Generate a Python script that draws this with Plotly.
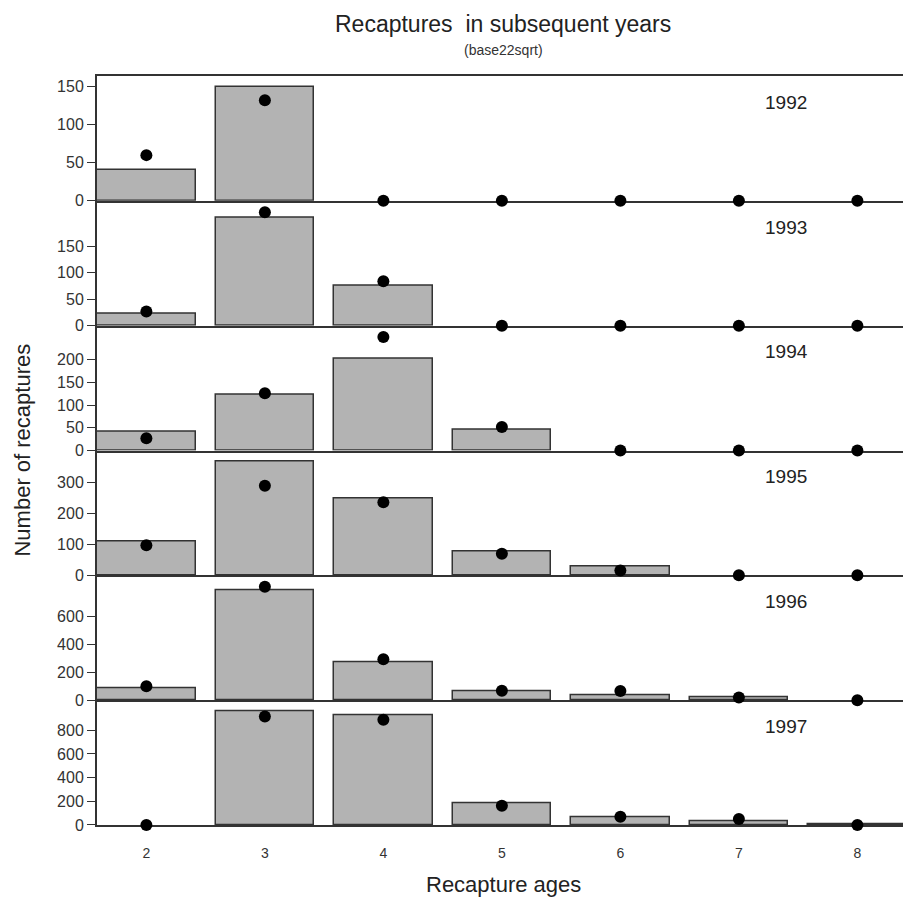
import plotly.graph_objects as go
from plotly.subplots import make_subplots

ages = [2, 3, 4, 5, 6, 7, 8]
years = ["1992", "1993", "1994", "1995", "1996", "1997"]
obs_1992 = [41, 149, 0, 0, 0, 0, 0]
obs_1993 = [22, 205, 76, 0, 0, 0, 0]
obs_1994 = [42, 123, 202, 45, 0, 0, 0]
obs_1995 = [108, 367, 249, 78, 30, 0, 0]
obs_1996 = [88, 790, 273, 63, 36, 17, 0]
obs_1997 = [0, 958, 930, 185, 65, 31, 4]
pred_1992 = [60, 132, 0, 0, 0, 0, 0]
pred_1993 = [27, 215, 84, 0, 0, 0, 0]
pred_1994 = [27, 126, 250, 52, 0, 0, 0]
pred_1995 = [97, 290, 236, 70, 16, 0, 0]
pred_1996 = [100, 815, 293, 67, 65, 20, 0]
pred_1997 = [0, 916, 888, 162, 70, 51, 0]
ytick_1992 = [0, 50, 100, 150]
ytick_1993 = [0, 50, 100, 150]
ytick_1994 = [0, 50, 100, 150, 200]
ytick_1995 = [0, 100, 200, 300]
ytick_1996 = [0, 200, 400, 600]
ytick_1997 = [0, 200, 400, 600, 800]

obs = [obs_1992, obs_1993, obs_1994, obs_1995, obs_1996, obs_1997]
pred = [pred_1992, pred_1993, pred_1994, pred_1995, pred_1996, pred_1997]
yticks = [ytick_1992, ytick_1993, ytick_1994, ytick_1995, ytick_1996, ytick_1997]

FONT = "Liberation Sans, Arial, sans-serif"
DARK = "#333333"

fig = make_subplots(rows=6, cols=1, shared_xaxes=True, vertical_spacing=0)

for i in range(6):
    r = i + 1
    # zero-valued bars are not drawn (no outline) as in the reference
    bar_y = [v if v != 0 else None for v in obs[i]]
    fig.add_trace(go.Bar(x=ages, y=bar_y, width=1 / 1.2,
                         marker=dict(color="#b3b3b3", line=dict(color=DARK, width=1.5)),
                         showlegend=False), row=r, col=1)
    fig.add_trace(go.Scatter(x=ages, y=pred[i], mode="markers", cliponaxis=False,
                             marker=dict(color="black", size=12),
                             showlegend=False), row=r, col=1)
    ymax = 1.1 * max(max(obs[i]), max(pred[i]))
    fig.update_yaxes(range=[0, ymax], tickvals=yticks[i], ticks="outside", ticklen=8,
                     tickcolor=DARK, tickwidth=1.2, showgrid=False, zeroline=False,
                     showline=True, linecolor=DARK, linewidth=2, layer="below traces",
                     tickfont=dict(family=FONT, size=16, color=DARK), row=r, col=1)
    fig.update_xaxes(range=[2 - 0.5 / 1.2, 8.385], showgrid=False, zeroline=False,
                     showline=True, linecolor=DARK, linewidth=2, layer="below traces",
                     mirror=(r == 1), row=r, col=1)
    ydom = "y domain" if r == 1 else f"y{r} domain"
    fig.add_annotation(x=7.40, xref="x", y=0.79, yref=ydom, text=years[i],
                       xanchor="center", yanchor="middle",
                       showarrow=False, font=dict(family=FONT, size=19, color="#222222"))

fig.update_xaxes(tickvals=ages, ticks="", ticklabelstandoff=14,
                 tickfont=dict(family=FONT, size=14, color=DARK), row=6, col=1)

fig.add_annotation(x=0.504, xref="paper", y=1.0694, yref="paper",
                   xanchor="center", yanchor="middle",
                   text="Recaptures\u00a0 in subsequent years", showarrow=False,
                   font=dict(family=FONT, size=23, color="#222222"))
fig.add_annotation(x=0.504, xref="paper", y=1.0347, yref="paper",
                   xanchor="center", yanchor="middle",
                   text="(base22sqrt)", showarrow=False,
                   font=dict(family=FONT, size=14, color="#333333"))
fig.add_annotation(x=0.504, xref="paper", y=-0.0801, yref="paper",
                   xanchor="center", yanchor="middle",
                   text="Recapture ages", showarrow=False,
                   font=dict(family=FONT, size=22, color="#222222"))
fig.add_annotation(x=-0.093, xref="paper", y=0.5, yref="paper",
                   xanchor="center", yanchor="middle",
                   text="Number of recaptures", showarrow=False, textangle=-90,
                   font=dict(family=FONT, size=22, color="#222222"))

fig.update_layout(width=903, height=901, margin=dict(l=97, r=0, t=76, b=76),
                  paper_bgcolor="white", plot_bgcolor="rgba(0,0,0,0)",
                  bargap=0, showlegend=False)

fig.write_html("out.html")
